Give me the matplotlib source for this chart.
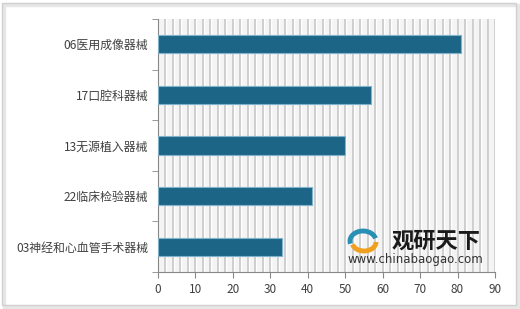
import matplotlib
matplotlib.use('Agg')
import matplotlib.pyplot as plt
import numpy as np
from matplotlib.patches import Rectangle, Arc

# Data (top to bottom as shown)
categories = ['06医用成像器械', '17口腔科器械', '13无源植入器械', '22临床检验器械', '03神经和心血管手术器械']
values = [81, 57, 50, 41, 33]
x_ticks = [0, 10, 20, 30, 40, 50, 60, 70, 80, 90]

plt.rcParams['font.family'] = ['Noto Sans CJK SC', 'DejaVu Sans']

fig = plt.figure(figsize=(5.2, 3.09), dpi=100)
fig.patch.set_facecolor('white')

# outer frame with soft shadow
fig.patches.append(Rectangle((4 / 520, 2 / 309), 514 / 520, 302 / 309, transform=fig.transFigure,
                             facecolor='none', edgecolor='#e6e6e6', linewidth=2.5, zorder=0))
fig.patches.append(Rectangle((2 / 520, 4 / 309), 514 / 520, 302 / 309, transform=fig.transFigure,
                             facecolor='none', edgecolor='#d0d0d0', linewidth=1.0, zorder=0))

ax = fig.add_axes([158 / 520, 1 - 272 / 309, 337 / 520, 253 / 309])
ax.set_facecolor('#f4f4f4')

y = np.arange(len(categories))
ax.barh(y, values, height=0.36, color='#1d6586', edgecolor='#7fb3cc', linewidth=0.8, zorder=3)

ax.set_xlim(0, 90)
ax.set_ylim(len(categories) - 0.5, -0.5)

# vertical grid every 2 units
for gx in np.arange(2, 91, 2):
    ax.axvline(gx + 0.25, color='white', linewidth=1.0, zorder=1)
    ax.axvline(gx, color='#c4c4c4', linewidth=1.1, zorder=1)

ax.set_xticks(x_ticks)
ax.set_xticklabels([str(v) for v in x_ticks], fontsize=8.5, color='#404040')
ax.set_yticks(y)
ax.set_yticklabels(categories, fontsize=8.6, color='#404040')
ax.set_yticks(np.arange(-0.5, len(categories), 1), minor=True)
ax.tick_params(axis='y', which='major', length=0, pad=7)
ax.tick_params(axis='y', which='minor', length=4, color='#888888', direction='out')
ax.tick_params(axis='x', length=4, color='#888888', direction='out', pad=4)

for side in ['top', 'right']:
    ax.spines[side].set_visible(False)
ax.spines['left'].set_color('#888888')
ax.spines['bottom'].set_color('#888888')

# watermark
fig.text(436 / 520, 1 - 241 / 309, '观研天下', fontsize=16, fontweight='bold', color='#1a1a1a',
         ha='center', va='center')
fig.text(415 / 520, 1 - 260 / 309, 'www.chinabaogao.com', fontsize=8.5, color='#333333',
         ha='center', va='center', family='DejaVu Sans')
fig.patches.append(Arc((363 / 520, 1 - 241 / 309), 26 / 520, 20 / 309, theta1=20, theta2=200,
                       transform=fig.transFigure, color='#2a8fb5', linewidth=3.5, zorder=5))
fig.patches.append(Arc((364 / 520, 1 - 242 / 309), 24 / 520, 18 / 309, theta1=200, theta2=360,
                       transform=fig.transFigure, color='#f0a020', linewidth=3.5, zorder=5))

plt.savefig('out.png', dpi=100)
